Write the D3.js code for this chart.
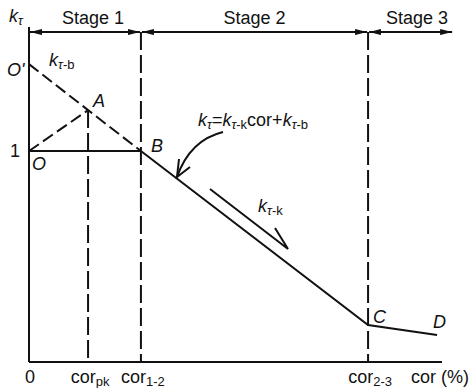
<!DOCTYPE html>
<html>
<head>
<meta charset="utf-8">
<script src="https://cdn.jsdelivr.net/npm/d3@7"></script>
<style>
  body { margin: 0; background: #fff; }
  svg text { font-family: "Liberation Sans", Arial, sans-serif; fill: #111; }
</style>
</head>
<body>
<svg id="chart" width="470" height="388"></svg>
<script>
// x in % of cor, y is k_tau
var xTicks = [
    { x: 0, main: "0", sub: "" },
    { x: 14.3, main: "cor", sub: "pk" },
    { x: 27.1, main: "cor", sub: "1-2" },
    { x: 82.1, main: "cor", sub: "2-3" }
];
var stages = [
    { name: "Stage 1", x0: 0, x1: 27.1 },
    { name: "Stage 2", x0: 27.1, x1: 82.1 },
    { name: "Stage 3", x0: 82.1, x1: 102.7 }
];
var dashedFit = [[0, 1.412], [14.3, 1.194], [27.1, 1.0]];   // O' -> A -> B
var solidLine = [[27.1, 1.0], [82.1, 0.175], [98.8, 0.128]];  // B -> C -> D
var riseLine = [[0, 1.0], [14.3, 1.194]];                      // O -> A
var flatLine = [[0, 1.0], [27.1, 1.0]];                        // O -> B
var guides = [
    { x: 14.3, top: 1.194 },
    { x: 27.1, top: 1.564 },
    { x: 82.1, top: 1.564 }
];
var stageY = 1.564;

var svg = d3.select("#chart");
var x = d3.scaleLinear().domain([0, 100]).range([29, 442]);
var y = d3.scaleLinear().domain([0, 1.588]).range([362, 27]);

var defs = svg.append("defs");
defs.append("marker").attr("id", "ah")
    .attr("viewBox", "0 0 12 6").attr("refX", 12).attr("refY", 3)
    .attr("markerWidth", 12).attr("markerHeight", 6)
    .attr("markerUnits", "userSpaceOnUse").attr("orient", "auto-start-reverse")
    .append("path").attr("d", "M0,0 L12,3 L0,6 Z").attr("fill", "#111");

var line = d3.line().x(function (d) { return x(d[0]); }).y(function (d) { return y(d[1]); });

// axes
svg.append("line").attr("x1", x(0)).attr("x2", x(0)).attr("y1", y(0)).attr("y2", y(1.588))
    .attr("stroke", "#111").attr("stroke-width", 2);
svg.append("line").attr("x1", x(0)).attr("x2", x(100)).attr("y1", y(0)).attr("y2", y(0))
    .attr("stroke", "#111").attr("stroke-width", 2);

// guide lines
svg.selectAll(".guide").data(guides).enter().append("line")
    .attr("class", "guide")
    .attr("x1", function (d) { return x(d.x); }).attr("x2", function (d) { return x(d.x); })
    .attr("y1", function (d) { return y(d.top); }).attr("y2", y(0))
    .attr("stroke", "#111").attr("stroke-width", 2).attr("stroke-dasharray", "18,5");

// stage arrows
svg.selectAll(".stage").data(stages).enter().append("line")
    .attr("class", "stage")
    .attr("x1", function (d) { return x(d.x0) + 1; }).attr("x2", function (d) { return x(d.x1) - 1; })
    .attr("y1", y(stageY)).attr("y2", y(stageY))
    .attr("stroke", "#111").attr("stroke-width", 2)
    .attr("marker-start", "url(#ah)").attr("marker-end", "url(#ah)");
svg.selectAll(".stageLbl").data(stages).enter().append("text")
    .attr("x", function (d, i) { return i == 2 ? x(d.x0) + 49 : (x(d.x0) + x(d.x1)) / 2 - (i == 0 ? -8 : 0); })
    .attr("y", 24).attr("text-anchor", "middle").attr("font-size", 18)
    .text(function (d) { return d.name; });

// curves
svg.append("path").attr("d", line(dashedFit)).attr("fill", "none")
    .attr("stroke", "#111").attr("stroke-width", 2).attr("stroke-dasharray", "12,5");
svg.append("path").attr("d", line(riseLine)).attr("fill", "none")
    .attr("stroke", "#111").attr("stroke-width", 2).attr("stroke-dasharray", "12,5");
svg.append("path").attr("d", line(flatLine)).attr("fill", "none")
    .attr("stroke", "#111").attr("stroke-width", 2);
svg.append("path").attr("d", line(solidLine)).attr("fill", "none")
    .attr("stroke", "#111").attr("stroke-width", 2);

// tick labels
var tl = svg.selectAll(".tick").data(xTicks).enter().append("text")
    .attr("x", function (d) { return x(d.x) + (d.sub ? 2 : 1); }).attr("y", 383)
    .attr("text-anchor", "middle").attr("font-size", 18);
tl.append("tspan").text(function (d) { return d.main; });
tl.append("tspan").attr("font-size", 13).attr("dy", 3).text(function (d) { return d.sub; });
svg.append("text").attr("x", 411).attr("y", 383).attr("font-size", 18).text("cor (%)");
svg.append("text").attr("x", x(0) - 9).attr("y", y(1) + 6).attr("text-anchor", "end")
    .attr("font-size", 18).text("1");

// k with subscript: tau italic, rest upright
function kSub(t, sub, first) {
    t.append("tspan").attr("font-style", "italic").attr("dy", first ? null : -3).text("k");
    t.append("tspan").attr("font-size", 13).attr("font-style", "italic").attr("dy", 3).text("τ");
    if (sub) t.append("tspan").attr("font-size", 13).text(sub);
}
function label(px, py, sub) {
    var t = svg.append("text").attr("x", px).attr("y", py).attr("font-size", 18);
    kSub(t, sub, true);
    return t;
}
label(9, 22, "");
label(49, 66, "-b");
label(258, 212, "-k");
var f = label(198, 126, "");
f.append("tspan").attr("dy", -3).text("=");
kSub(f, "-k", true);
f.append("tspan").attr("dy", -3).text("cor+");
kSub(f, "-b", true);

var pts = [
    { t: "O'", x: 0, v: 1.412, dx: -22, dy: 12 },
    { t: "A", x: 14.3, v: 1.194, dx: 5, dy: -3 },
    { t: "O", x: 0, v: 1.0, dx: 3, dy: 19 },
    { t: "B", x: 27.1, v: 1.0, dx: 10, dy: 1 },
    { t: "C", x: 82.1, v: 0.175, dx: 5, dy: -2 },
    { t: "D", x: 98.8, v: 0.128, dx: -4, dy: -7 }
];
svg.selectAll(".pt").data(pts).enter().append("text")
    .attr("x", function (d) { return x(d.x) + d.dx; })
    .attr("y", function (d) { return y(d.v) + d.dy; })
    .attr("font-size", 18).attr("font-style", "italic")
    .text(function (d) { return d.t; });

// formula pointer arrow
svg.append("path").attr("d", "M223,132 Q190,140 177,177").attr("fill", "none")
    .attr("stroke", "#111").attr("stroke-width", 2);
svg.append("path").attr("d", "M179,159 L177,177 L190,167").attr("fill", "none")
    .attr("stroke", "#111").attr("stroke-width", 2);

// slope arrow parallel to B-C
svg.append("path").attr("d", "M210,189 L288,249 L275,228").attr("fill", "none")
    .attr("stroke", "#111").attr("stroke-width", 2);
</script>
</body>
</html>
